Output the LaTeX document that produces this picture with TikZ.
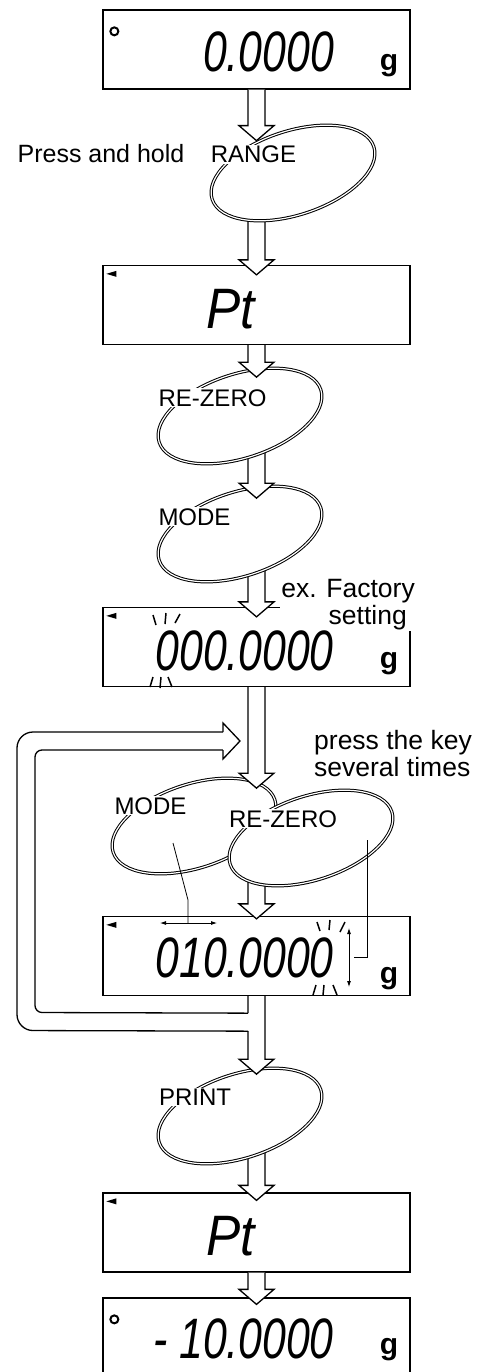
\documentclass[tikz,border=0pt]{standalone}
\usepackage{fontspec}
\setmainfont{Liberation Sans}
\usetikzlibrary{arrows.meta,calc,shapes.geometric}
\pgfdeclarelayer{back}
\pgfdeclarelayer{middle}
\pgfsetlayers{back,middle,main}
\tikzset{
  display/.style  ={draw,line width=1.3pt,minimum width=307pt,minimum height=79pt,inner sep=0pt},
  keyoval/.style  ={ellipse,draw,double,double distance=1.2pt,line width=1pt,fill=white,
                    minimum width=170pt,minimum height=84pt,inner sep=0pt,rotate=18},
  keylabel/.style ={font=\fontsize{24}{26}\selectfont,fill=white,inner sep=1pt,anchor=base},
  note/.style     ={font=\fontsize{26.5}{27}\selectfont,inner sep=1pt},
  digits/.style   ={font=\fontsize{57}{60}\selectfont\itshape,inner sep=0pt,anchor=base east},
  unit/.style     ={font=\fontsize{30}{32}\selectfont\bfseries,inner sep=0pt,anchor=base},
  hollow/.style   ={draw,fill=white,line width=1.3pt,line join=miter},
  pointer/.style  ={line width=0.8pt},
  blink/.style    ={line width=1.5pt},
  dblarrow/.style ={line width=0.8pt,{Latex[length=6pt,width=4pt]}-{Latex[length=6pt,width=4pt]}},
}
\newcommand{\hollowarrow}[2]{%
  \draw[hollow] ($(#1)+(-8.5,0)$) -- ($(#2)+(-8.5,-15)$) -- ($(#2)+(-17.5,-15)$) -- (#2)
    -- ($(#2)+(17.5,-15)$) -- ($(#2)+(8.5,-15)$) -- ($(#1)+(8.5,0)$);}

\begin{document}
\begin{tikzpicture}[x=1pt,y=-1pt]
\useasboundingbox (0,0) rectangle (483,1372);
% ---- displays ----
\begin{pgfonlayer}{back}
\node[display] (dispA) at (256.5,49.5)   {};
\node[display] (dispB) at (256.5,305)    {};
\node[display] (dispC) at (256.5,647)    {};
\node[display] (dispD) at (256.5,956)    {};
\node[display] (dispE) at (256.5,1232.5) {};
\node[display] (dispF) at (256.5,1337.5) {};
\end{pgfonlayer}
% ---- keys ----
\begin{pgfonlayer}{middle}
\node[keyoval] (kModeA) at (240,534) {};
\end{pgfonlayer}
\node[keyoval] (kRange) at (293,173)  {};
\node[keyoval] (kZeroA) at (240,416)  {};
\node[keyoval] (kModeB) at (194,826)  {};
\node[keyoval] (kZeroB) at (311,838)  {};
\node[keyoval] (kPrint) at (240,1116) {};
% ---- arrow tips ----
\coordinate (tipA) at ($(dispA.south)+(0,51)$);
\coordinate (tipB) at ($(dispB.north)+(0,10)$);
\coordinate (tipC) at ($(dispB.south)+(0,32)$);
\coordinate (tipD) at ($(dispB.south)+(0,153)$);
\coordinate (tipE) at ($(dispC.north)+(0,10)$);
\coordinate (tipF) at ($(dispC.south)+(0,101)$);
\coordinate (tipG) at ($(dispD.north)+(0,3)$);
\coordinate (tipH) at ($(dispD.south)+(0,78)$);
\coordinate (tipI) at ($(dispE.north)+(0,8)$);
\coordinate (tipJ) at ($(dispF.north)+(0,7)$);
% ---- arrows leaving a key (start hidden under the key) ----
\begin{pgfonlayer}{back}
\hollowarrow{dispB.north |- kRange.center}{tipB}
\hollowarrow{dispC.north |- kModeA.center}{tipE}
\hollowarrow{dispD.north |- kZeroB.center}{tipG}
\hollowarrow{dispE.north |- kPrint.center}{tipI}
\end{pgfonlayer}
\begin{pgfonlayer}{middle}
\hollowarrow{dispB.south |- kZeroA.center}{tipD}
\end{pgfonlayer}
% ---- arrows leaving a display ----
\hollowarrow{dispA.south}{tipA}
\hollowarrow{dispB.south}{tipC}
\hollowarrow{dispC.south}{tipF}
\hollowarrow{dispD.south}{tipH}
\hollowarrow{dispE.south}{tipJ}
% ---- repeat loop ----
\coordinate (jTop) at ($(dispD.south)+(-8.5,17)$);
\coordinate (jBot) at ($(dispD.south)+(-8.5,35)$);
\fill[white] ($(jTop)+(-1.5,0)$) rectangle ($(jBot)+(1.5,0)$);
\draw[hollow,fill=none,rounded corners=7pt]  (jTop) -- (35,1012.5) -- (35,750) -- (223,750);
\draw[hollow,fill=none,rounded corners=16pt] (jBot) -- (17,1030.5) -- (17,732) -- (223,732);
\draw[hollow] (223,732) -- (223,723) -- (240,741) -- (223,759) -- (223,750);
% ---- key names and notes ----
\node[font=\fontsize{25}{27}\selectfont,anchor=base] (hold) at (101,163) {Press and hold};
\node[keylabel] (lRange) at (253.5,163) {RANGE};
\node[keylabel] (lZeroA) at (212.5,406) {RE-ZERO};
\node[keylabel] (lModeA) at (194.5,525) {MODE};
\node[keylabel] (lModeB) at (150.5,814) {MODE};
\node[keylabel] (lZeroB) at (283,827)   {RE-ZERO};
\node[keylabel] (lPrint) at (195,1105)  {PRINT};
\node[note,align=right,anchor=east,fill=white] (factory) at (416,605) {ex. Factory\\setting\hspace*{8pt}};
\node[note,align=left,anchor=west] (several) at (313,754) {press the key\\several times};
% ---- display contents ----
\draw[line width=2pt] ($(dispA.north west)+(12,22)$) circle (4pt);
\draw[line width=2pt] ($(dispF.north west)+(12,22)$) circle (4pt);
\foreach \d in {dispB,dispC,dispD,dispE}
  \fill ($(\d.north west)+(4,9)$) -- ++(10,-3) -- ++(0,6) -- cycle;
\node[digits] (valA) at (334,72)   {\scalebox{0.75}[1]{0.0000}};
\node[digits,anchor=base] (valB) at (231,328) {\scalebox{0.9}[1]{Pt}};
\node[digits] (valC) at (334,670)  {\scalebox{0.75}[1]{000.0000}};
\node[digits] (valD) at (334,977)  {\scalebox{0.75}[1]{010.0000}};
\node[digits,anchor=base] (valE) at (231,1255) {\scalebox{0.9}[1]{Pt}};
\node[digits] (valF) at (334,1358) {\scalebox{0.75}[1]{- 10.0000}};
\node[unit] (uA) at (389,71)   {g};
\node[unit] (uC) at (389,668)  {g};
\node[unit] (uD) at (389,983)  {g};
\node[unit] (uF) at (389,1354) {g};
% blinking digit marks
\foreach \xa/\ya/\xb/\yb in {153/615/156/625,166/613/165/624,180/614/175/623,
    150/687/153/677,161/677/160/688,168/677/172/687,
    317/922/320/931,330/920/329/930,345/922/340/932,
    313/995/316/985,324/985/323/995,333/985/337/995}
  \draw[blink] (\xa,\ya) -- (\xb,\yb);
% ---- digit shift pointers ----
\coordinate (shiftM) at (188,923);
\draw[dblarrow] (160,923) -- (217,923);
\draw[pointer] ($(kModeB)+(-21,17)$) -- ($(shiftM)+(0,-23)$) -- (shiftM);
\coordinate (stepM) at (354,957);
\draw[dblarrow] (349,928) -- (349,987);
\draw[pointer] ($(kZeroB)+(56,2)$) -- ($(stepM)+(13,0)$) -- (stepM);
\end{tikzpicture}
\end{document}
